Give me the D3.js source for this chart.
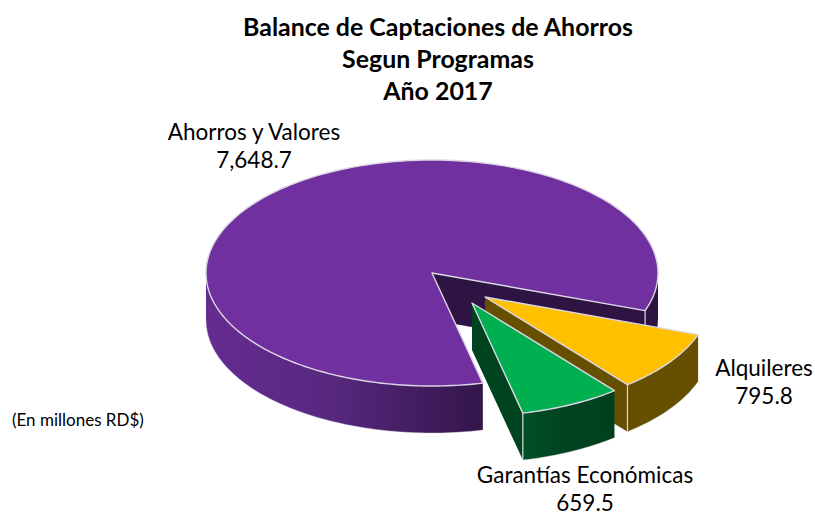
<!DOCTYPE html>
<html><head><meta charset="utf-8">
<script src="https://cdn.jsdelivr.net/npm/d3@7"></script>
<style>html,body{margin:0;background:#fff}svg{display:block}text{font-family:Lato,"Open Sans",sans-serif;fill:#000}</style>
</head><body><div id="c"></div>
<script>
const categories=["Ahorros y Valores","Alquileres","Garantías Económicas"];
const values=[7648.7,795.8,659.5];
const valueLabels=["7,648.7","795.8","659.5"];
const colors=["#7030A0","#FFC000","#00B050"];
const sideColors=["#2E1443","#665000","#00431F"];
const titleLines=["Balance de Captaciones de Ahorros","Segun Programas","Año 2017"];
const note="(En millones RD$)";

const W=815,H=512,cx=432,cy=273,rx=226,ry=113,depth=47;
const explode=[[0,0],[53,24],[40,30]];
const labelPos=[[254,140],[764,376],[585,483]];
const TAU=Math.PI*2,start=167/360*TAU;
const svg=d3.select("#c").append("svg").attr("width",W).attr("height",H);
const defs=svg.append("defs");
function grad(id,stops,x1,x2){
  const g=defs.append("linearGradient").attr("id",id).attr("gradientUnits","userSpaceOnUse")
    .attr("x1",x1).attr("x2",x2).attr("y1",0).attr("y2",0);
  stops.forEach(s=>g.append("stop").attr("offset",s[0]).attr("stop-color",s[1]));
}
grad("pSide",[[0,"#652C90"],[0.45,"#57287F"],[1,"#331549"]],206,484);
grad("gSide",[[0,"#004F25"],[0.5,"#00431F"],[1,"#00401D"]],523,613);

const arcs=d3.pie().sort(null).startAngle(start).endAngle(start+TAU)(values);
const pt=(a,o,dz=0)=>[cx+o[0]+rx*Math.sin(a),cy+o[1]-ry*Math.cos(a)+dz];
const ctr=(o,dz=0)=>[cx+o[0],cy+o[1]+dz];
const line=d3.line();
const edge="#DCD6E4";
function arcPts(a0,a1,o,dz=0){
  const n=Math.max(2,Math.ceil(Math.abs(a1-a0)/0.02));
  return d3.range(n+1).map(i=>pt(a0+(a1-a0)*i/n,o,dz));
}
function outerWall(a0,a1,o,fill){
  const top=arcPts(a0,a1,o),bot=arcPts(a1,a0,o,depth);
  svg.append("path").attr("d",line(top.concat(bot))+"Z").attr("fill",fill);
  svg.append("path").attr("d",line(bot)).attr("fill","none").attr("stroke",edge).attr("stroke-width",.6).attr("opacity",.7);
}
function sideWall(a,o,fill){
  svg.append("path").attr("d",line([ctr(o),pt(a,o),pt(a,o,depth),ctr(o,depth)])+"Z").attr("fill",fill);
}
function vEdge(a,o){
  svg.append("path").attr("d",line([pt(a,o),pt(a,o,depth)])).attr("stroke",edge).attr("stroke-width",1.2).attr("fill","none");
}
function topFace(d,i,o){
  const pts=[ctr(o)].concat(arcPts(d.startAngle,d.endAngle,o));
  svg.append("path").attr("d",line(pts)+"Z").attr("fill",colors[i]).attr("stroke",edge).attr("stroke-width",1.4).attr("stroke-linejoin","round");
}
// Ahorros y Valores
{
  const d=arcs[0],o=explode[0];
  sideWall(d.endAngle,o,sideColors[0]);
  outerWall(TAU+Math.PI/2,d.endAngle,o,sideColors[0]);
  outerWall(d.startAngle,TAU*0.75,o,"url(#pSide)");
  vEdge(d.endAngle,o);
  topFace(d,0,o);
}
// Alquileres
{
  const d=arcs[1],o=explode[1];
  sideWall(d.endAngle,o,sideColors[1]);
  outerWall(d.startAngle,d.endAngle,o,sideColors[1]);
  vEdge(d.endAngle,o);
  topFace(d,1,o);
}
// Garantías
{
  const d=arcs[2],o=explode[2];
  sideWall(d.endAngle,o,sideColors[2]);
  outerWall(d.startAngle,d.endAngle,o,"url(#gSide)");
  vEdge(d.endAngle,o);
  topFace(d,2,o);
}
svg.selectAll("text.t").data(titleLines).join("text").attr("class","t")
  .attr("x",438).attr("y",(d,i)=>36+i*32).attr("text-anchor","middle")
  .attr("font-size",24.9).attr("font-weight",700).text(d=>d);
categories.forEach((c,i)=>{
  svg.append("text").attr("x",labelPos[i][0]).attr("y",labelPos[i][1]).attr("text-anchor","middle").attr("font-size",22.5).text(c);
  svg.append("text").attr("x",labelPos[i][0]).attr("y",labelPos[i][1]+28).attr("text-anchor","middle").attr("font-size",22.5).text(valueLabels[i]);
});
svg.append("text").attr("x",12).attr("y",426).attr("font-size",17).text(note);
</script></body></html>
